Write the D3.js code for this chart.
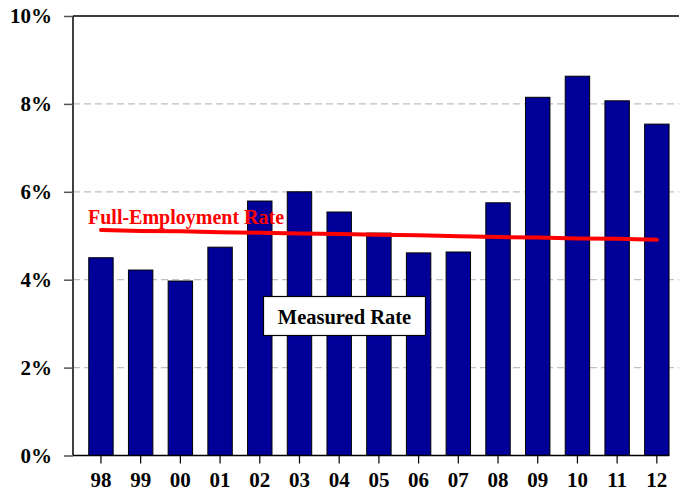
<!DOCTYPE html>
<html>
<head>
<meta charset="utf-8">
<script src="https://cdn.jsdelivr.net/npm/d3@7"></script>
<style>
  body { margin: 0; background: #fff; }
  svg text { font-family: "Times New Roman", "Liberation Serif", "DejaVu Serif", serif !important; font-weight: bold; }
</style>
</head>
<body>
<div id="chart"></div>
<script>
const years = ["98", "99", "00", "01", "02", "03", "04", "05", "06", "07", "08", "09", "10", "11", "12"];
const measured = [4.5, 4.22, 3.97, 4.74, 5.79, 6.0, 5.54, 5.06, 4.61, 4.63, 5.75, 8.15, 8.63, 8.07, 7.54];
const fullEmployment = [5.13, 5.11, 5.10, 5.08, 5.07, 5.05, 5.04, 5.02, 5.01, 4.99, 4.97, 4.96, 4.94, 4.93, 4.91];
const yTicks = [0, 2, 4, 6, 8, 10];

const W = 679, H = 492;
const plotLeft = 73, plotTop = 16, plotBottom = 455.5;
const serif = "'Times New Roman', 'Liberation Serif', serif";

const svg = d3.select("#chart").append("svg")
    .attr("width", W)
    .attr("height", H)
    .attr("font-family", serif);

let x = d3.scaleBand().domain(years).range([81.2, 676.6]).paddingInner(0.385).paddingOuter(0.19);
let y = d3.scaleLinear().domain([0, 10]).range([plotBottom, plotTop]);

// gridlines
svg.append("g")
    .selectAll("line")
    .data(yTicks.filter(d => d > 0 && d < 10))
    .enter().append("line")
    .attr("x1", plotLeft).attr("x2", W)
    .attr("y1", d => y(d)).attr("y2", d => y(d))
    .attr("stroke", "#c0c0c0")
    .attr("stroke-width", 1.2)
    .attr("stroke-dasharray", "7,4");

// top border
svg.append("line")
    .attr("x1", plotLeft).attr("x2", W)
    .attr("y1", y(10)).attr("y2", y(10))
    .attr("stroke", "#000").attr("stroke-width", 1.5);

// bars
svg.append("g")
    .selectAll("rect")
    .data(measured)
    .enter().append("rect")
    .attr("x", (d, i) => x(years[i]))
    .attr("y", d => y(d))
    .attr("width", x.bandwidth())
    .attr("height", d => y(0) - y(d))
    .attr("fill", "#000099")
    .attr("stroke", "#000")
    .attr("stroke-width", 1);

// y axis
const yAxis = svg.append("g")
    .attr("transform", `translate(${plotLeft},0)`)
    .call(d3.axisLeft(y).tickValues(yTicks).tickSize(9).tickPadding(12).tickFormat(d => d + "%"));
yAxis.attr("font-family", serif).attr("font-size", 21);
yAxis.select(".domain").attr("stroke", "#000").attr("stroke-width", 1.5)
    .attr("d", `M0,${plotTop}V${plotBottom}`);
yAxis.selectAll(".tick line").attr("stroke", "#555").attr("stroke-width", 1.5);
yAxis.selectAll(".tick text")
    .attr("font-weight", "bold")
    .attr("fill", "#000");

// x axis
const xAxis = svg.append("g")
    .attr("transform", `translate(0,${plotBottom})`)
    .call(d3.axisBottom(x).tickSize(8).tickPadding(9));
xAxis.attr("font-family", serif).attr("font-size", 21);
xAxis.select(".domain").attr("stroke", "#000").attr("stroke-width", 1.5)
    .attr("d", `M${plotLeft},0H669`);
xAxis.selectAll(".tick line").attr("stroke", "#000").attr("stroke-width", 1.2);
xAxis.selectAll(".tick text")
    .attr("font-weight", "bold")
    .attr("fill", "#000");

// full-employment line
svg.append("path")
    .datum(fullEmployment)
    .attr("fill", "none")
    .attr("stroke", "#ff0000")
    .attr("stroke-width", 4)
    .attr("stroke-linecap", "round")
    .attr("d", d3.line()
        .x((d, i) => x(years[i]) + x.bandwidth() / 2)
        .y(d => y(d)));

svg.append("text")
    .attr("x", 88)
    .attr("y", 223.5)
    .attr("fill", "#ff0000")
    .attr("font-size", 20)
    .text("Full-Employment Rate");

// measured rate label
svg.append("rect")
    .attr("x", 263.5).attr("y", 296.5)
    .attr("width", 162).attr("height", 39)
    .attr("fill", "#fff")
    .attr("stroke", "#000")
    .attr("stroke-width", 1.2);

svg.append("text")
    .attr("x", 344.5)
    .attr("y", 323.5)
    .attr("text-anchor", "middle")
    .attr("fill", "#000")
    .attr("font-size", 20.5)
    .text("Measured Rate");
</script>
</body>
</html>
